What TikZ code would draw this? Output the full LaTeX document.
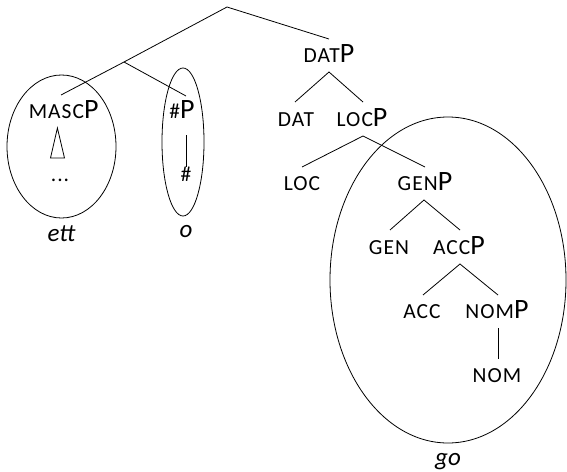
\documentclass[tikz,border=0pt]{standalone}
\usepackage{fontspec}
\setmainfont{Carlito}
\newfontfamily\scfont[LetterSpace=5]{Carlito}
\newcommand{\smc}[1]{{\scfont\fontsize{21.5}{25}\selectfont #1}}
\newcommand{\bigp}[1]{{\fontsize{28}{32}\selectfont #1}}
\newcommand{\lab}[2]{\smc{#1}\bigp{#2}}
\begin{document}
\begin{tikzpicture}[x=1pt,y=-1pt,
  lbl/.style={anchor=base,inner sep=0pt,outer sep=0pt},
  word/.style={anchor=base,inner sep=0pt,font=\fontsize{25}{28}\selectfont\itshape},
  edge/.style={line width=0.8pt},
  ring/.style={line width=0.8pt}]
\useasboundingbox (0,0) rectangle (567,471);
% labels
\node[lbl] (mascp) at (63.7,118.3) {\lab{MASC}{P}};
\node[lbl] (dots) at (60,181.7) {\smc{...}};
\node[lbl] (nump) at (182,118.3) {\lab{\#}{P}};
\node[lbl] (num) at (186,181.7) {\smc{\#}};
\node[lbl] (datp) at (329,62.7) {\lab{DAT}{P}};
\node[lbl] (dat) at (296,126) {\smc{DAT}};
\node[lbl] (locp) at (362,126) {\lab{LOC}{P}};
\node[lbl] (loc) at (302,190.7) {\smc{LOC}};
\node[lbl] (genp) at (425,190.7) {\lab{GEN}{P}};
\node[lbl] (gen) at (389,254) {\smc{GEN}};
\node[lbl] (accp) at (459,254) {\lab{ACC}{P}};
\node[lbl] (acc) at (422,318.3) {\smc{ACC}};
\node[lbl] (nomp) at (497,318.3) {\lab{NOM}{P}};
\node[lbl] (nom) at (497,382.3) {\smc{NOM}};
\node[word] (ett) at (61.5,241.7) {ett};
\node[word] (o) at (186,237) {o};
\node[word] (go) at (448,465) {go};
% edge points
\coordinate (r) at (227,7);
\coordinate (n1) at (124,62);
\coordinate (n1top) at (329,39);
\coordinate (mtop) at (61,95);
\coordinate (ntop) at (186,96);
\coordinate (da) at (329,72);
\coordinate (datt) at (295,102);
\coordinate (loct) at (363,102);
\coordinate (la) at (363,136);
\coordinate (loclt) at (302,167);
\coordinate (gent) at (425,167);
\coordinate (ga) at (424,200);
\coordinate (genlt) at (390,230);
\coordinate (acct) at (460,230);
\coordinate (aa) at (460,264);
\coordinate (acclt) at (423,295);
\coordinate (nomt) at (498,295);
\coordinate (na) at (498,328);
\coordinate (nomlt) at (498,359);
\coordinate (ha) at (186,135);
\coordinate (hb) at (186,167);
\draw[edge] (n1) -- (r) -- (n1top);
\draw[edge] (mtop) -- (n1) -- (ntop);
\draw[edge] (datt) -- (da) -- (loct);
\draw[edge] (loclt) -- (la) -- (gent);
\draw[edge] (genlt) -- (ga) -- (acct);
\draw[edge] (acclt) -- (aa) -- (nomt);
\draw[edge] (na) -- (nomlt);
\draw[edge] (ha) -- (hb);
% triangle
\draw[edge,line join=miter] (57.4,128) -- (64.5,158) -- (50.5,158) -- cycle;
% ellipses
\draw[ring] (61.5,146.5) ellipse [x radius=54.5, y radius=71.5];
\draw[ring] (183,142) ellipse [x radius=21, y radius=74];
\draw[ring] (448,280) ellipse [x radius=118, y radius=163];
\end{tikzpicture}
\end{document}
